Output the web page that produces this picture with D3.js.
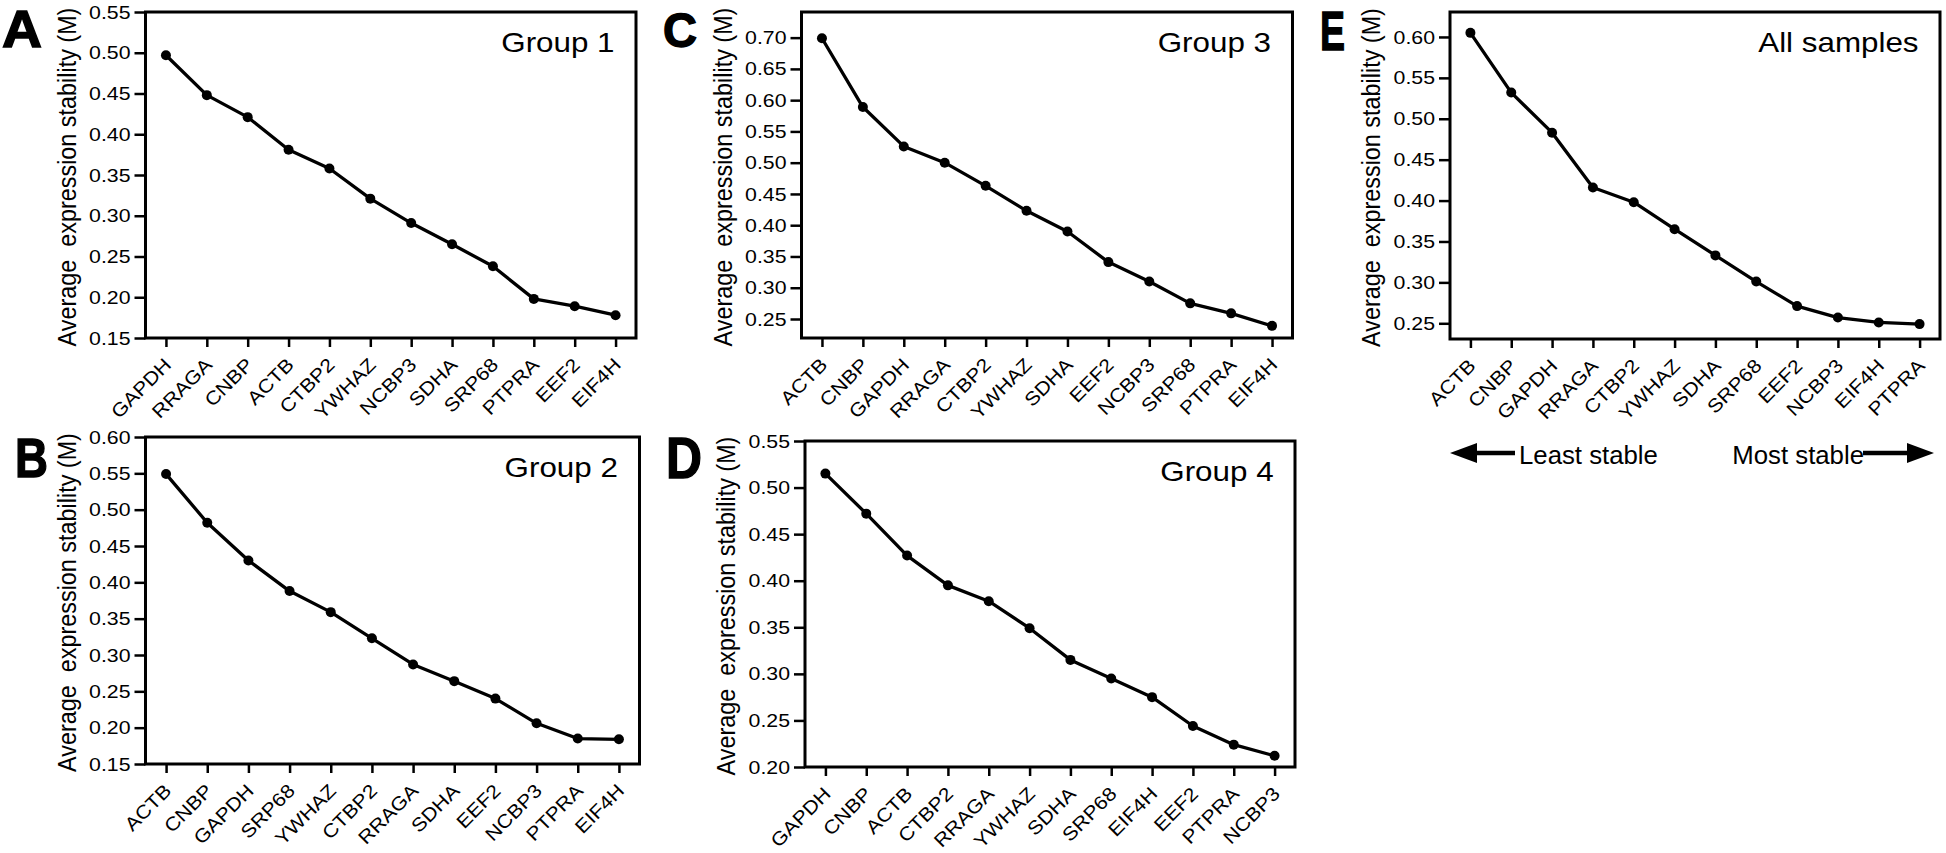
<!DOCTYPE html>
<html>
<head>
<meta charset="utf-8">
<script src="https://cdn.jsdelivr.net/npm/d3@7"></script>
<style>
  body { margin: 0; background: #fff; }
  svg { display: block; }
  text { font-family: "Liberation Sans", Arial, Helvetica, sans-serif; fill: #000; }
</style>
</head>
<body>
<div id="chart"></div>
<script>

// ---- data ----
var genesA = ["GAPDH", "RRAGA", "CNBP", "ACTB", "CTBP2", "YWHAZ", "NCBP3", "SDHA", "SRP68", "PTPRA", "EEF2", "EIF4H"];
var valuesA = [0.497, 0.448, 0.421, 0.381, 0.358, 0.321, 0.291, 0.265, 0.238, 0.198, 0.189, 0.178];
var ticksA = [0.15, 0.20, 0.25, 0.30, 0.35, 0.40, 0.45, 0.50, 0.55];

var genesB = ["ACTB", "CNBP", "GAPDH", "SRP68", "YWHAZ", "CTBP2", "RRAGA", "SDHA", "EEF2", "NCBP3", "PTPRA", "EIF4H"];
var valuesB = [0.549, 0.482, 0.430, 0.388, 0.359, 0.323, 0.287, 0.264, 0.240, 0.206, 0.185, 0.184];
var ticksB = [0.15, 0.20, 0.25, 0.30, 0.35, 0.40, 0.45, 0.50, 0.55, 0.60];

var genesC = ["ACTB", "CNBP", "GAPDH", "RRAGA", "CTBP2", "YWHAZ", "SDHA", "EEF2", "NCBP3", "SRP68", "PTPRA", "EIF4H"];
var valuesC = [0.699, 0.589, 0.526, 0.500, 0.463, 0.423, 0.390, 0.341, 0.310, 0.275, 0.259, 0.239];
var ticksC = [0.25, 0.30, 0.35, 0.40, 0.45, 0.50, 0.55, 0.60, 0.65, 0.70];

var genesD = ["GAPDH", "CNBP", "ACTB", "CTBP2", "RRAGA", "YWHAZ", "SDHA", "SRP68", "EIF4H", "EEF2", "PTPRA", "NCBP3"];
var valuesD = [0.515, 0.472, 0.427, 0.395, 0.378, 0.349, 0.315, 0.295, 0.275, 0.244, 0.224, 0.212];
var ticksD = [0.20, 0.25, 0.30, 0.35, 0.40, 0.45, 0.50, 0.55];

var genesE = ["ACTB", "CNBP", "GAPDH", "RRAGA", "CTBP2", "YWHAZ", "SDHA", "SRP68", "EEF2", "NCBP3", "EIF4H", "PTPRA"];
var valuesE = [0.605, 0.532, 0.483, 0.416, 0.398, 0.365, 0.333, 0.301, 0.271, 0.257, 0.251, 0.249];
var ticksE = [0.25, 0.30, 0.35, 0.40, 0.45, 0.50, 0.55, 0.60];

var panelLetters = ["A", "B", "C", "D", "E"];
var panelTitles = ["Group 1", "Group 2", "Group 3", "Group 4", "All samples"];
var yTitle = "Average  expression stability (M)";

// ---- layout (pixels) ----
var width = 1946, height = 853;
var stretch = 1.12; // the figure is a bit wider than the fonts it was set in

var panels = [
    { letter: panelLetters[0], title: panelTitles[0], genes: genesA, values: valuesA, ticks: ticksA,
      domain: [0.15, 0.55], left: 145.5, right: 636, top: 12, bottom: 338,
      lx: 2, ly: 47, lsize: 52, lw: 40 },
    { letter: panelLetters[1], title: panelTitles[1], genes: genesB, values: valuesB, ticks: ticksB,
      domain: [0.15, 0.60], left: 145.5, right: 639.5, top: 437, bottom: 764,
      lx: 15, ly: 477, lsize: 55, lw: 33 },
    { letter: panelLetters[2], title: panelTitles[2], genes: genesC, values: valuesC, ticks: ticksC,
      domain: [0.2196, 0.741], left: 801.5, right: 1292.5, top: 12, bottom: 338,
      lx: 663, ly: 47, lsize: 48, lw: 34 },
    { letter: panelLetters[3], title: panelTitles[3], genes: genesD, values: valuesD, ticks: ticksD,
      domain: [0.20, 0.55], left: 805, right: 1295, top: 441, bottom: 767,
      lx: 666, ly: 478, lsize: 57, lw: 36 },
    { letter: panelLetters[4], title: panelTitles[4], genes: genesE, values: valuesE, ticks: ticksE,
      domain: [0.2308, 0.6305], left: 1450, right: 1940, top: 12, bottom: 339,
      lx: 1320, ly: 50, lsize: 55, lw: 25 }
];

var svg = d3.select("#chart").append("svg")
    .attr("width", width)
    .attr("height", height);

svg.append("rect").attr("width", width).attr("height", height).attr("fill", "#fff");

// widen a text element along its baseline
var widen = function (sel, k) {
    sel.each(function () {
        var w = this.getComputedTextLength();
        d3.select(this).attr("textLength", w * k).attr("lengthAdjust", "spacingAndGlyphs");
    });
};

var drawPanel = function (p) {

    var x = d3.scalePoint().domain(p.genes).range([p.left, p.right]).padding(0.5),
        y = d3.scaleLinear().domain(p.domain).range([p.bottom, p.top]);

    var g = svg.append("g");

    // y axis
    var yAxis = g.append("g")
        .attr("transform", "translate(" + p.left + ",0)")
        .call(d3.axisLeft(y).tickValues(p.ticks).tickSize(11).tickPadding(4).tickFormat(d3.format(".2f")));
    yAxis.select(".domain").remove();
    yAxis.selectAll("line").attr("stroke", "#000").attr("stroke-width", 2.5);
    yAxis.selectAll("text")
        .attr("font-size", 19)
        .call(widen, stretch);

    // x axis, labels slanted
    var xAxis = g.append("g")
        .attr("transform", "translate(0," + p.bottom + ")")
        .call(d3.axisBottom(x).tickSize(9));
    xAxis.select(".domain").remove();
    xAxis.selectAll("line").attr("stroke", "#000").attr("stroke-width", 2.5);
    xAxis.selectAll("text")
        .attr("font-size", 19)
        .attr("y", 0).attr("dy", 0).attr("x", 0)
        .attr("text-anchor", "end")
        .attr("transform", "translate(6,28) rotate(-45)")
        .call(widen, stretch);

    yAxis.attr("font-family", null);
    xAxis.attr("font-family", null);

    // frame
    g.append("rect")
        .attr("x", p.left).attr("y", p.top)
        .attr("width", p.right - p.left).attr("height", p.bottom - p.top)
        .attr("fill", "none").attr("stroke", "#000").attr("stroke-width", 3);

    // y title (glyphs a little wider across, like the rest of the figure)
    g.append("text")
        .attr("transform", "translate(" + (p.left - 70) + "," + ((p.top + p.bottom) / 2 + 2) + ") scale(" + stretch + ",1) rotate(-90)")
        .attr("text-anchor", "middle")
        .attr("font-size", 23.4)
        .style("white-space", "pre")
        .text(yTitle);

    // group title
    g.append("text")
        .attr("x", x(p.genes[p.genes.length - 1]) - 1)
        .attr("y", p.top + 40)
        .attr("text-anchor", "end")
        .attr("font-size", 28)
        .text(p.title)
        .call(widen, stretch);

    // panel letter
    g.append("text")
        .attr("x", p.lx).attr("y", p.ly)
        .attr("font-size", p.lsize)
        .attr("font-weight", "bold")
        .attr("stroke", "#000")
        .attr("stroke-width", 1.4)
        .attr("textLength", p.lw)
        .attr("lengthAdjust", "spacingAndGlyphs")
        .text(p.letter);

    var pts = p.genes.map(function (d, i) { return { gene: d, val: p.values[i] }; });

    var line = d3.line()
        .x(function (d) { return x(d.gene); })
        .y(function (d) { return y(d.val); });

    g.append("path")
        .datum(pts)
        .attr("d", line)
        .attr("fill", "none")
        .attr("stroke", "#000")
        .attr("stroke-width", 3.3)
        .attr("stroke-linejoin", "round");

    g.selectAll(".dot")
        .data(pts)
        .enter()
        .append("circle")
        .attr("class", "dot")
        .attr("cx", function (d) { return x(d.gene); })
        .attr("cy", function (d) { return y(d.val); })
        .attr("r", 5)
        .attr("fill", "#000");
};

panels.forEach(drawPanel);

// stability arrows under panel E
var pe = panels[4];
var arrowY = 453;
var arrows = svg.append("g");

var drawArrow = function (x0, x1, dir) {
    // x0 = tail, x1 = tip
    var head = 27 * dir;
    arrows.append("line")
        .attr("x1", x0).attr("y1", arrowY)
        .attr("x2", x1 - head).attr("y2", arrowY)
        .attr("stroke", "#000").attr("stroke-width", 4.5);
    arrows.append("path")
        .attr("d", "M" + x1 + "," + arrowY + "L" + (x1 - head) + "," + (arrowY - 10) + "L" + (x1 - head) + "," + (arrowY + 10) + "Z")
        .attr("fill", "#000");
};

drawArrow(1515, pe.left, -1);
arrows.append("text")
    .attr("x", 1519).attr("y", arrowY + 11)
    .attr("font-size", 25)
    .text("Least stable")
    .call(widen, 1.03);

arrows.append("text")
    .attr("x", 1864).attr("y", arrowY + 11)
    .attr("text-anchor", "end")
    .attr("font-size", 25)
    .text("Most stable")
    .call(widen, 1.03);
drawArrow(1863, 1934, 1);

</script>
</body>
</html>
